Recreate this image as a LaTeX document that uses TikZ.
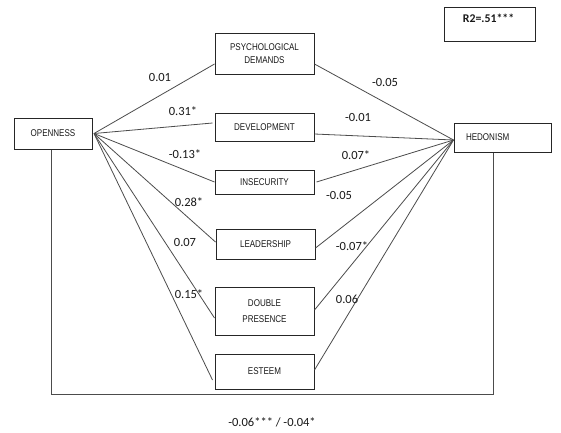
\documentclass[tikz,border=0pt]{standalone}
\usepackage{fontspec}
\setmainfont{Carlito}
\newfontfamily\boxfont[FakeStretch=0.82]{Liberation Sans}
\usetikzlibrary{calc}
\begin{document}
\begin{tikzpicture}[x=1pt,y=-1pt,
  boxnode/.style={draw=black!85, line width=1pt, font=\boxfont\fontsize{9.8}{14}\selectfont, align=center, inner sep=0pt, text=black!90},
  conn/.style={draw=black!70, line width=0.8pt},
  coef/.style={font=\fontsize{12.5}{14}\selectfont, text=black!90, inner sep=0pt}]
\useasboundingbox (0,0) rectangle (561,432);
\fill[white] (0,0) rectangle (561,432);
% boxes
\node[boxnode, minimum width=78, minimum height=31] (open) at (53,133.5) {OPENNESS};
\node[boxnode, minimum width=99, minimum height=41] (psy) at (264.5,53.5) {PSYCHOLOGICAL\\[-1pt]DEMANDS};
\node[boxnode, minimum width=99, minimum height=28] (dev) at (264.5,127) {DEVELOPMENT};
\node[boxnode, minimum width=99, minimum height=24] (ins) at (264.5,182) {INSECURITY};
\node[boxnode, minimum width=99, minimum height=30] (lead) at (265.5,244) {LEADERSHIP};
\node[boxnode, minimum width=99, minimum height=48] (dp) at (264.5,311) {DOUBLE\\[2pt]PRESENCE};
\node[boxnode, minimum width=99, minimum height=35] (est) at (264.5,371.5) {ESTEEM};
\node[boxnode, minimum height=29, text width=73pt, inner xsep=12pt, align=left] (hed) at (502.5,137.5) {HEDONISM};
\node[draw=black!85, line width=1pt, minimum width=91, minimum height=34, inner sep=0pt] (r2) at (489.5,24) {};
\node[font=\bfseries\fontsize{11.8}{13}\selectfont, text=black!90, inner sep=0pt] (r2t) at (488.5,18) {R2=.51***};
% hub coordinates
\coordinate (o) at ([xshift=1.5pt]open.east);
\coordinate (h) at ([yshift=-2.5pt]hed.west);
% left fan
\draw[conn] (o) -- ([yshift=-10.5pt]psy.west);
\draw[conn] (o) -- ([yshift=4pt,xshift=-2pt]dev.west);
\draw[conn] (o) -- (ins.west);
\draw[conn] (o) -- ([yshift=2pt]lead.west);
\draw[conn] (o) -- ([yshift=-7pt]dp.west);
\draw[conn] (o) -- ([yshift=-8.5pt,xshift=-2pt]est.west);
% right fan
\draw[conn] ([yshift=-10.5pt]psy.east) -- (h);
\draw[conn] ([yshift=-7pt]dev.east) -- (h);
\draw[conn] ([xshift=2pt]ins.east) -- (h);
\draw[conn] ([yshift=-4pt]lead.east) -- (h);
\draw[conn] ([yshift=1pt]dp.east) -- (h);
\draw[conn] ([yshift=1.5pt]est.east) -- (h);
% bottom direct path
\coordinate (bl) at (51,394);
\coordinate (br) at (493,394);
\draw[conn, line width=1pt] (open.south -| bl) -- (bl) -- (br) -- (hed.south -| br);
% coefficients
\node[coef] (c1) at (160,77) {0.01};
\node[coef] (c2) at (183,111) {0.31*};
\node[coef] (c3) at (185,154) {-0.13*};
\node[coef] (c4) at (189,202) {0.28*};
\node[coef] (c5) at (185,242) {0.07};
\node[coef] (c6) at (189,294) {0.15*};
\node[coef] (d1) at (385,82) {-0.05};
\node[coef] (d2) at (358,117) {-0.01};
\node[coef] (d3) at (356,155) {0.07*};
\node[coef] (d4) at (339,195) {-0.05};
\node[coef] (d5) at (352,246) {-0.07*};
\node[coef] (d6) at (347,299) {0.06};
\node[coef] (tot) at (272,422) {-0.06*** / -0.04*};
\end{tikzpicture}
\end{document}
